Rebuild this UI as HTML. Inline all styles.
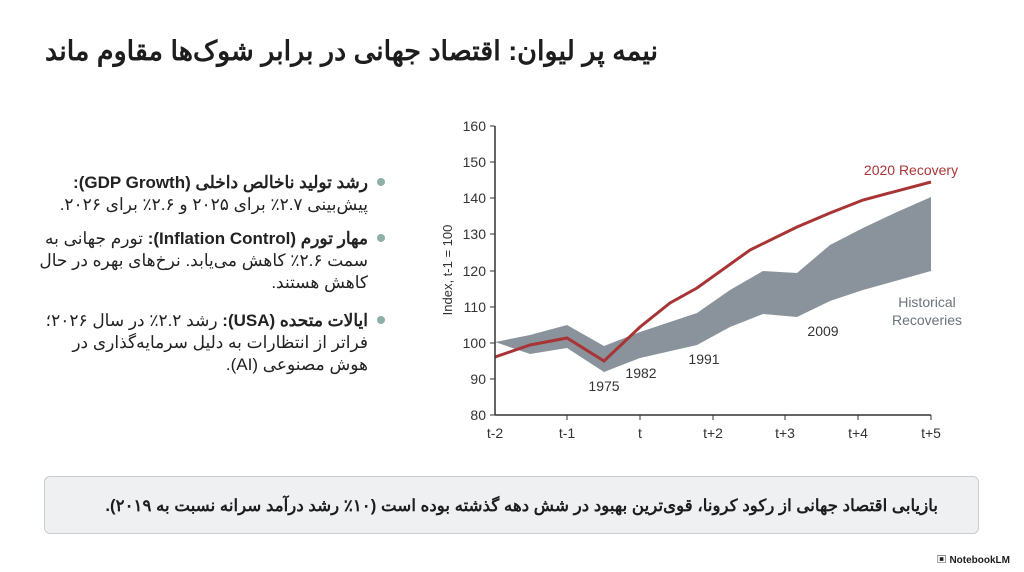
<!DOCTYPE html>
<html><head><meta charset="utf-8"><style>
body{margin:0;width:1024px;height:572px;background:#fff;position:relative;overflow:hidden;font-family:"Liberation Sans","Noto Sans CJK SC",sans-serif;color:#1d1d1f}
.title{position:absolute;right:366px;top:36px;font-size:27px;font-weight:bold;direction:rtl;white-space:nowrap}
.bul{position:absolute;right:656px;width:335px;direction:rtl;font-size:17px;line-height:22px;color:#222}
.bul b{font-weight:bold}
.dot{position:absolute;left:377px;width:8px;height:8px;border-radius:50%;background:#8fb0a9}
.box{position:absolute;left:44px;top:476px;width:935px;height:58px;background:#eef0f2;border:1px solid #c9cdd1;border-radius:6px;box-sizing:border-box}
.box div{position:absolute;right:40px;top:18px;direction:rtl;font-size:16.7px;font-weight:bold;white-space:nowrap}
.nb{position:absolute;right:14px;top:551px;font-size:10px;font-weight:bold}
</style></head><body>
<div class="title">نیمه پر لیوان: اقتصاد جهانی در برابر شوک‌ها مقاوم ماند</div>
<div class="dot" style="top:178px"></div>
<div class="bul" style="top:172px"><b>رشد تولید ناخالص داخلی (GDP Growth):</b> پیش‌بینی ۲.۷٪ برای ۲۰۲۵ و ۲.۶٪ برای ۲۰۲۶.</div>
<div class="dot" style="top:234px"></div>
<div class="bul" style="top:228px"><b>مهار تورم (Inflation Control):</b> تورم جهانی به سمت ۲.۶٪ کاهش می‌یابد. نرخ‌های بهره در حال کاهش هستند.</div>
<div class="dot" style="top:316px"></div>
<div class="bul" style="top:310px"><b>ایالات متحده (USA):</b> رشد ۲.۲٪ در سال ۲۰۲۶؛ فراتر از انتظارات به دلیل سرمایه‌گذاری در هوش مصنوعی (AI).</div>
<svg style="position:absolute;left:0;top:0" width="1024" height="572" font-family="Liberation Sans,sans-serif">
<polygon fill="#8a939c" points="495,342 530,335 567,325 604,346 640,332 697,313 730,290 763,271 797,273 830,245 863,228 897,212 931,197 931,271 863,290 830,301 797,317 763,314 730,327 697,345 640,358 604,372 567,348 530,354"/>
<polyline fill="none" stroke="#a83436" stroke-width="3" points="495,357 530,345 567,338 604,361 640,327 670,303 697,288 750,250 797,227 830,213 863,200 931,182"/>
<g stroke="#333" stroke-width="1.5"><line x1="495" y1="126" x2="495" y2="415"/><line x1="495" y1="415" x2="931" y2="415"/>
<g stroke-width="1"><line x1="490" y1="126" x2="495" y2="126"/><line x1="490" y1="162" x2="495" y2="162"/><line x1="490" y1="198" x2="495" y2="198"/><line x1="490" y1="234" x2="495" y2="234"/><line x1="490" y1="271" x2="495" y2="271"/><line x1="490" y1="307" x2="495" y2="307"/><line x1="490" y1="343" x2="495" y2="343"/><line x1="490" y1="379" x2="495" y2="379"/><line x1="490" y1="415" x2="495" y2="415"/>
<line x1="567" y1="415" x2="567" y2="420"/><line x1="640" y1="415" x2="640" y2="420"/><line x1="713" y1="415" x2="713" y2="420"/><line x1="785" y1="415" x2="785" y2="420"/><line x1="858" y1="415" x2="858" y2="420"/><line x1="931" y1="415" x2="931" y2="420"/></g></g>
<g font-size="14" fill="#333" text-anchor="end"><text x="486" y="131">160</text><text x="486" y="167">150</text><text x="486" y="203">140</text><text x="486" y="239">130</text><text x="486" y="276">120</text><text x="486" y="312">110</text><text x="486" y="348">100</text><text x="486" y="384">90</text><text x="486" y="420">80</text></g>
<g font-size="14" fill="#333" text-anchor="middle"><text x="495" y="438">t-2</text><text x="567" y="438">t-1</text><text x="640" y="438">t</text><text x="713" y="438">t+2</text><text x="785" y="438">t+3</text><text x="858" y="438">t+4</text><text x="931" y="438">t+5</text></g>
<text transform="translate(452,270) rotate(-90)" font-size="13" fill="#333" text-anchor="middle">Index, t-1 = 100</text>
<text x="911" y="175" font-size="14" fill="#a83436" text-anchor="middle">2020 Recovery</text>
<text x="927" y="307" font-size="14" fill="#6b737b" text-anchor="middle">Historical</text>
<text x="927" y="325" font-size="14" fill="#6b737b" text-anchor="middle">Recoveries</text>
<g font-size="14" fill="#333" text-anchor="middle"><text x="604" y="391">1975</text><text x="641" y="378">1982</text><text x="704" y="364">1991</text><text x="823" y="336">2009</text></g>
</svg>
<div class="box"><div>بازیابی اقتصاد جهانی از رکود کرونا، قوی‌ترین بهبود در شش دهه گذشته بوده است (۱۰٪ رشد درآمد سرانه نسبت به ۲۰۱۹).</div></div>
<div class="nb">▣ NotebookLM</div>
</body></html>
